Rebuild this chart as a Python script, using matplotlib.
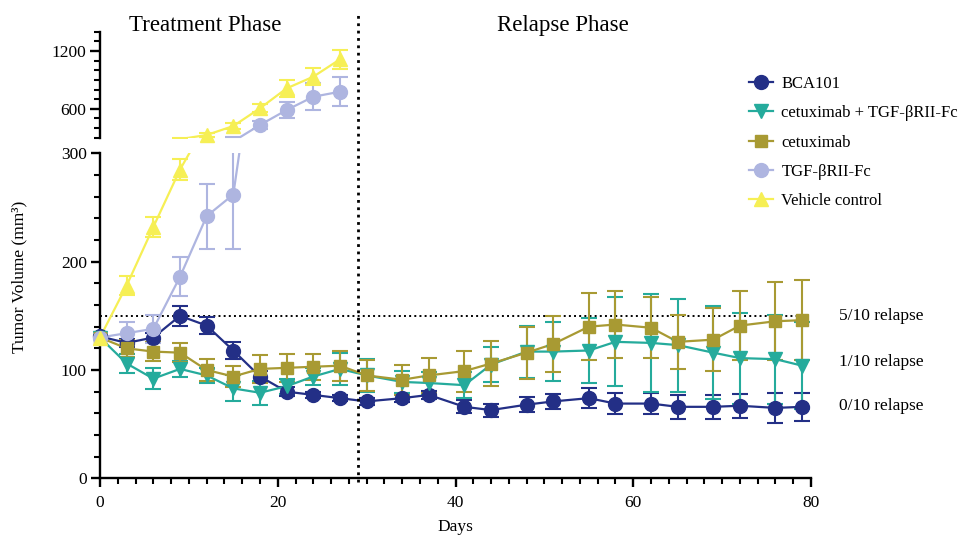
import numpy as np
import matplotlib.pyplot as plt
import matplotlib.transforms as mtransforms
from matplotlib.lines import Line2D

plt.rcParams['font.family'] = ['Liberation Serif', 'DejaVu Serif']

# days of measurement
days = [0, 3, 6, 9, 12, 15, 18, 21, 24, 27, 30, 34, 37, 41, 44, 48, 51, 55, 58, 62, 65, 69, 72, 76, 79]
days_treat = days[:10]

bca101 = [131, 125, 130, 150, 141, 118, 94, 80, 77, 74, 71, 74, 77, 66, 63, 68, 71, 74, 69, 69, 66, 66, 67, 65, 66]
bca101_err = [2, 4, 4, 9, 8, 8, 5, 4, 3, 3, 3, 4, 4, 6, 6, 7, 7, 9, 10, 10, 11, 11, 11, 14, 13]

cetux_tgf = [130, 106, 92, 101, 95, 83, 79, 85, 94, 101, 95, 89, 88, 86, 105, 117, 117, 118, 126, 125, 123, 116, 111, 110, 104]
cetux_tgf_err = [3, 9, 10, 7, 7, 12, 11, 7, 8, 15, 15, 10, 10, 12, 16, 24, 27, 30, 41, 45, 43, 43, 42, 41, 40]

cetux = [130, 120, 117, 116, 100, 94, 101, 102, 103, 104, 95, 91, 95, 99, 106, 116, 124, 140, 142, 139, 126, 128, 141, 145, 146]
cetux_err = [3, 8, 9, 9, 10, 10, 13, 13, 12, 14, 14, 14, 16, 19, 21, 24, 26, 31, 31, 28, 25, 29, 32, 36, 37]

tgf = [130, 134, 138, 186, 242, 262, 432, 587, 725, 777]
tgf_err = [3, 10, 13, 18, 30, 50, 40, 86, 139, 149]

vehicle = [130, 178, 232, 285, 328, 421, 605, 812, 933, 1113]
vehicle_err = [3, 9, 9, 10, 20, 30, 40, 86, 87, 97]

labels = ['BCA101', 'cetuximab + TGF-βRII-Fc', 'cetuximab', 'TGF-βRII-Fc', 'Vehicle control']
colors = ['#232f86', '#25ab9c', '#a89a33', '#aeb5e0', '#f6ef55']
markers = ['o', 'v', 's', 'o', '^']
msizes = [10, 10, 9, 10, 10.5]

series = [
    (days, bca101, bca101_err),
    (days, cetux_tgf, cetux_tgf_err),
    (days, cetux, cetux_err),
    (days_treat, tgf, tgf_err),
    (days_treat, vehicle, vehicle_err),
]

treatment_end = 29
threshold = 150
relapse_text = ['5/10 relapse', '1/10 relapse', '0/10 relapse']
relapse_y = [150, 107, 67]

fig = plt.figure(figsize=(9.67, 5.36), dpi=100)
ax = fig.add_axes([0.1034, 0.1076, 0.7353, 0.6063])
ax_up = fig.add_axes([0.1034, 0.7431, 0.7353, 0.1978])

def draw(a, lo, hi):
    for (x, y, e), c, m, ms in zip(series, colors, markers, msizes):
        x = np.array(x); y = np.array(y); e = np.array(e)
        a.errorbar(x, y, yerr=e, color=c, lw=1.6, elinewidth=1.5,
                   capsize=6, capthick=1.5, fmt='-')
        keep = (y >= lo) & (y <= hi)
        a.plot(x[keep], y[keep], ls='none', marker=m, ms=ms, color=c,
               mec=c, clip_on=False, zorder=3)
    a.set_xlim(0, 80)
    a.set_ylim(lo, hi)

draw(ax, 0, 300)
draw(ax_up, 300, 1400)

# lower axes
for s in ['top', 'right']:
    ax.spines[s].set_visible(False)
for s in ['left', 'bottom']:
    ax.spines[s].set_linewidth(1.7)
ax.set_xticks([0, 20, 40, 60, 80])
ax.set_xticks(np.arange(0, 81, 2), minor=True)
ax.set_yticks([0, 100, 200, 300])
ax.set_yticks(np.arange(0, 301, 20), minor=True)
ax.tick_params(which='major', length=6.5, width=1.7, labelsize=12.5, direction='out')
ax.tick_params(axis='x', which='major', pad=5.5)
ax.tick_params(axis='y', which='major', pad=3)
ax.tick_params(which='minor', length=4, width=1.5, direction='out')
ax.set_xlabel('Days', fontsize=12.5, labelpad=6)

# upper axes
for s in ['top', 'right', 'bottom']:
    ax_up.spines[s].set_visible(False)
ax_up.spines['left'].set_linewidth(1.7)
ax_up.set_xticks([])
ax_up.set_yticks([600, 1200])
ax_up.set_yticks(np.arange(300, 1401, 100), minor=True)
ax_up.tick_params(which='major', length=7, width=1.7, labelsize=12.5, direction='out', pad=3)
ax_up.tick_params(which='minor', length=4, width=1.5, direction='out')

# threshold and phase split
ax.plot([0, 80], [threshold, threshold], ls=':', color='black', lw=1.4, zorder=1)
trans = mtransforms.blended_transform_factory(ax.transData, fig.transFigure)
fig.add_artist(Line2D([treatment_end, treatment_end], [0.10, 0.975], transform=trans,
                      ls=':', color='black', lw=2))

for t, yv in zip(relapse_text, relapse_y):
    ax.text(83.2, yv, t, fontsize=12.5, va='center', ha='left', clip_on=False)

fig.text(0.212, 0.953, 'Treatment Phase', fontsize=16.5, ha='center', va='center')
fig.text(0.582, 0.953, 'Relapse Phase', fontsize=16.5, ha='center', va='center')
fig.text(0.02, 0.483, 'Tumor Volume (mm³)', fontsize=12.5, rotation=90, ha='center', va='center')

handles = [Line2D([], [], color=c, marker=m, ms=ms, lw=1.6) for c, m, ms in zip(colors, markers, msizes)]
fig.legend(handles, labels, loc='upper left', bbox_to_anchor=(0.764, 0.877), frameon=False,
           fontsize=12, handlelength=1.45, handletextpad=0.5, labelspacing=0.8,
           borderaxespad=0.2)

fig.savefig('out.png', dpi=100)
